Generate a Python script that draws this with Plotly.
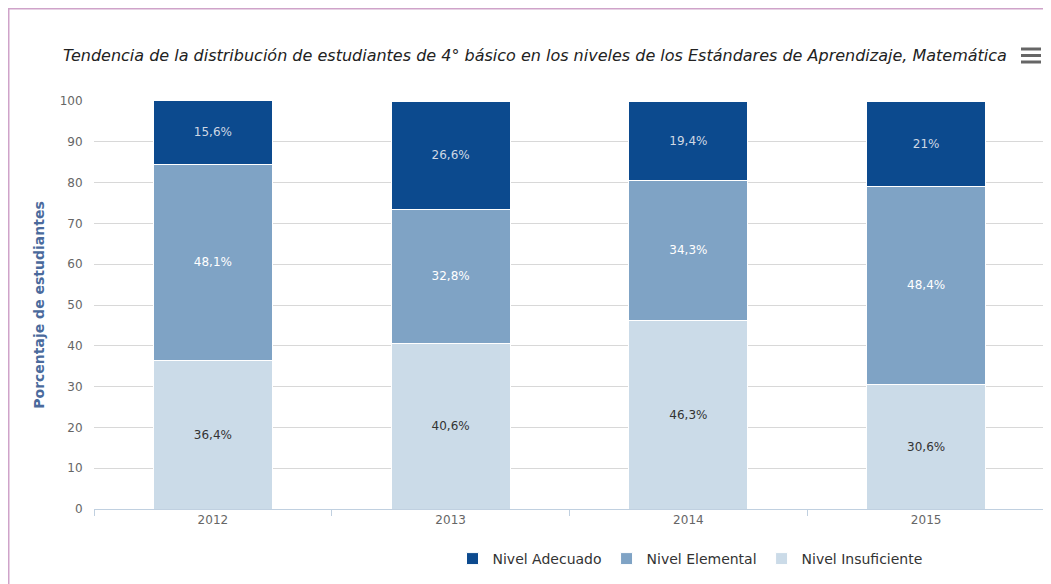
import plotly.graph_objects as go

years = ["2012", "2013", "2014", "2015"]
insuficiente = [36.4, 40.6, 46.3, 30.6]
elemental = [48.1, 32.8, 34.3, 48.4]
adecuado = [15.6, 26.6, 19.4, 21.0]
y_ticks = [0, 10, 20, 30, 40, 50, 60, 70, 80, 90, 100]

title = "Tendencia de la distribución de estudiantes de 4° básico en los niveles de los Estándares de Aprendizaje, Matemática"


def fmt(v):
    if float(v).is_integer():
        return f"{int(v)}%"
    return f"{v:.1f}".replace(".", ",") + "%"


OFF = 8  # page body margin
W, H = 1051 - OFF, 584 - OFF
L = 94 - OFF
T = 101 - OFF
R = W - (1045 - OFF)
B = H - (509 - OFF)
pw, ph = W - L - R, H - T - B


def px(x):  # page x -> paper
    return (x - OFF - L) / pw


def py(y):  # page y -> paper
    return (H - B - (y - OFF)) / ph


series = [
    ("Nivel Insuficiente", insuficiente, "#cbdbe8", "#333333"),
    ("Nivel Elemental", elemental, "#7fa3c5", "#ffffff"),
    ("Nivel Adecuado", adecuado, "#0c4a8e", "#cfd8e4"),
]

fig = go.Figure()
for name, vals, color, tcolor in series:
    fig.add_trace(go.Bar(
        x=years, y=vals, name=name,
        marker=dict(color=color, line=dict(color="#ffffff", width=1)),
        text=[fmt(v) for v in vals], textposition="inside",
        insidetextanchor="middle", textangle=0,
        textfont=dict(color=tcolor, size=12, family="DejaVu Sans"),
        hoverinfo="x+y+name",
    ))

shapes = [
    dict(type="rect", xref="paper", yref="paper", layer="below",
         x0=px(8.5), x1=px(1070), y0=py(600), y1=py(8.5),
         fillcolor="rgba(0,0,0,0)", line=dict(color="#cfa3c9", width=2)),
]
for yy in [49, 55.5, 62]:
    shapes.append(dict(type="line", xref="paper", yref="paper",
                       x0=px(1021), x1=px(1041), y0=py(yy), y1=py(yy),
                       line=dict(color="#666666", width=3)))

fig.update_layout(
    width=W, height=H,
    margin=dict(l=L, r=R, t=T, b=B, autoexpand=False),
    paper_bgcolor="#ffffff", plot_bgcolor="rgba(0,0,0,0)",
    barmode="stack", bargap=0.5,
    font=dict(family="DejaVu Sans", size=12, color="#666666"),
    title=dict(text=title, x=(535 - OFF) / W, xanchor="center", xref="container",
               y=1 - (55 - OFF) / H, yanchor="middle", yref="container",
               font=dict(family="DejaVu Sans", size=16, color="#222222", style="italic")),
    shapes=shapes,
    showlegend=True,
    legend=dict(orientation="h", traceorder="reversed", x=px(690), xanchor="center",
                y=py(559), yanchor="middle", font=dict(size=14, color="#333333"),
                bgcolor="rgba(0,0,0,0)"),
    xaxis=dict(type="category", tickson="boundaries", ticks="outside", ticklen=6,
               tickcolor="#c0d0e0", showline=True, linecolor="#c0d0e0", linewidth=1,
               showgrid=False, tickfont=dict(size=12, color="#666666")),
    yaxis=dict(range=[0, 100], tickvals=y_ticks, showgrid=True, gridcolor="#d8d8d8",
               gridwidth=1, zeroline=False, ticks="outside", ticklen=8,
               tickcolor="rgba(0,0,0,0)", tickfont=dict(size=12, color="#666666"),
               title=dict(text="<b>Porcentaje de estudiantes</b>", standoff=11,
                          font=dict(size=14, color="#4a6a9c"))),
)

fig.write_html("out.html")
